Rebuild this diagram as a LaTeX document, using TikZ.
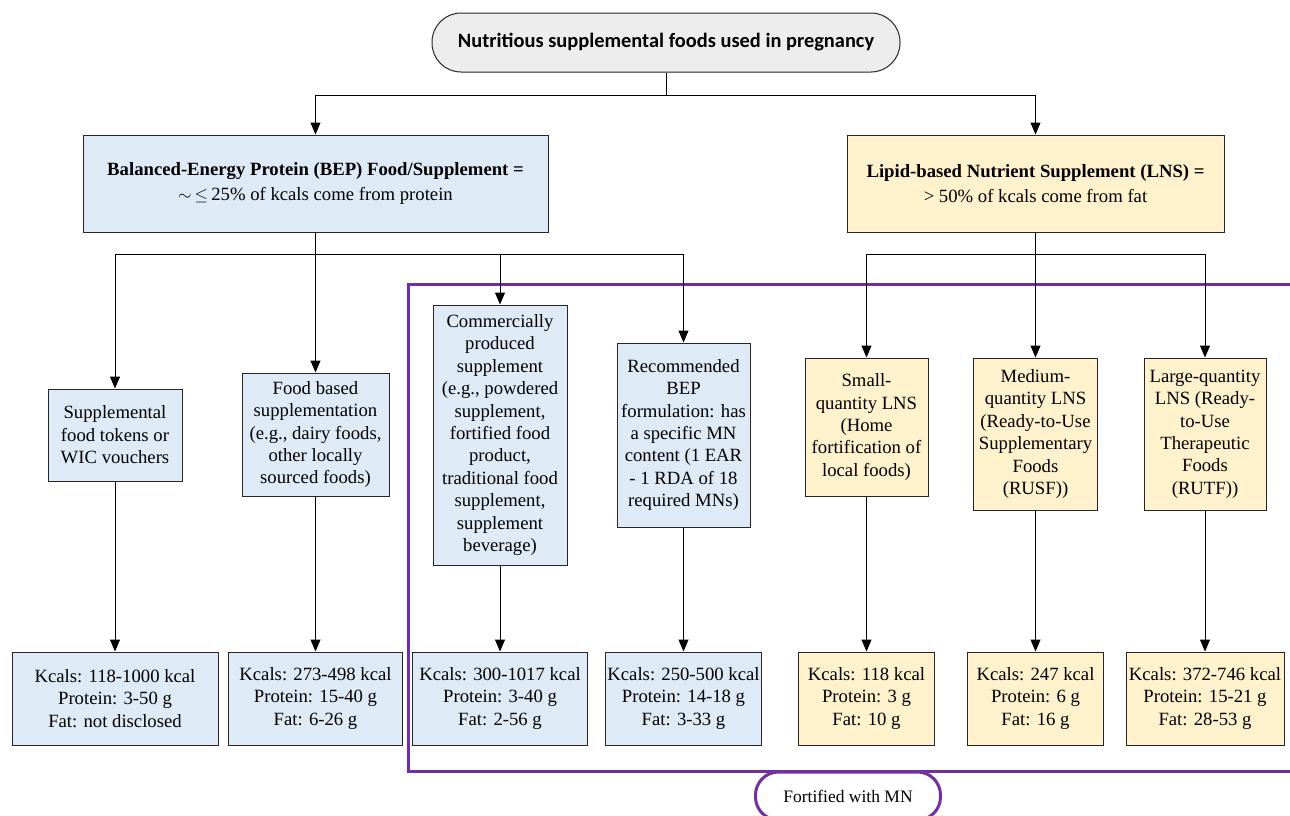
\documentclass[tikz,border=0pt]{standalone}
\usepackage{amsmath}
\usepackage{amssymb}
\usepackage{fontspec}
\setmainfont{Liberation Serif}
\newfontfamily\titlefont{Carlito}
\usetikzlibrary{arrows.meta}

\definecolor{bepblue}{HTML}{DEEBF7}
\definecolor{lnsyellow}{HTML}{FFF2CC}
\definecolor{topgray}{HTML}{EDEDED}
\definecolor{mnpurple}{HTML}{7030A0}

\begin{document}
\begin{tikzpicture}[x=1pt,y=-1pt,
    box/.style={draw=black!85, line width=1pt, align=center, inner sep=2pt,
        font=\fontsize{18.7}{22.4}\selectfont},
    bepbox/.style={box, fill=bepblue},
    lnsbox/.style={box, fill=lnsyellow},
    headbox/.style={font=\fontsize{18.7}{25}\selectfont, minimum height=97pt},
    arr/.style={-{Triangle[length=12pt,width=10pt]}, line width=1pt}]
    \useasboundingbox (0,0) rectangle (1290,815);

    % Draw the MN frame first
    \draw[mnpurple, line width=3pt] (1300,284) -- (408,284) -- (408,771) -- (1300,771);

    % Top of the tree
    \node[draw=black!85, line width=1pt, fill=topgray, rounded corners=29pt,
        minimum width=468pt, minimum height=59pt,
        font=\titlefont\bfseries\fontsize{20.4}{24}\selectfont] (top) at (666,42.5)
        {Nutritious supplemental foods used in pregnancy};

    % Two main groups
    \node[bepbox, headbox, minimum width=465pt] (bep) at (315.5,183.5)
        {\textbf{Balanced-Energy Protein (BEP) Food/Supplement =}\\
         $\sim$\,$\leq$\,25\% of kcals come from protein};
    \node[lnsbox, headbox, minimum width=377pt] (lns) at (1035.5,183.5)
        {\textbf{Lipid-based Nutrient Supplement (LNS) =}\\
         > 50\% of kcals come from fat};

    % Kinds of supplement
    \node[bepbox, minimum width=134pt, minimum height=92pt] (tokens) at (115,435)
        {Supplemental\\food tokens or\\WIC vouchers};
    \node[bepbox, minimum width=147pt, minimum height=123pt] (foodbased) at (315.5,434.5)
        {Food based\\supplementation\\(e.g., dairy foods,\\other locally\\sourced foods)};
    \node[bepbox, minimum width=134pt, minimum height=260pt] (commercial) at (500,435)
        {Commercially\\produced\\supplement\\(e.g., powdered\\supplement,\\fortified food\\product,\\traditional food\\supplement,\\supplement\\beverage)};
    \node[bepbox, minimum width=133pt, minimum height=184pt] (recommended) at (683.5,435)
        {Recommended\\BEP\\formulation: has\\a specific MN\\content (1 EAR\\- 1 RDA of 18\\required MNs)};
    \node[lnsbox, minimum width=123pt, minimum height=138pt] (sqlns) at (866.5,427)
        {Small-\\quantity LNS\\(Home\\fortification of\\local foods)};
    \node[lnsbox, minimum width=124pt, minimum height=152pt] (mqlns) at (1035.5,434)
        {Medium-\\quantity LNS\\(Ready-to-Use\\Supplementary\\Foods\\(RUSF))};
    \node[lnsbox, minimum width=122pt, minimum height=152pt] (lqlns) at (1205,434)
        {Large-quantity\\LNS (Ready-\\to-Use\\Therapeutic\\Foods\\(RUTF))};

    % Nutrient values
    \node[bepbox, minimum width=206pt, minimum height=93pt] (tokensval) at (115,698.5)
        {Kcals: 118-1000 kcal\\Protein: 3-50 g\\Fat: not disclosed};
    \node[bepbox, minimum width=174pt, minimum height=93pt] (foodbasedval) at (315.5,698.5)
        {Kcals: 273-498 kcal\\Protein: 15-40 g\\Fat: 6-26 g};
    \node[bepbox, minimum width=175pt, minimum height=93pt] (commercialval) at (500,698.5)
        {Kcals: 300-1017 kcal\\Protein: 3-40 g\\Fat: 2-56 g};
    \node[bepbox, minimum width=156pt, minimum height=93pt] (recommendedval) at (683.5,698.5)
        {Kcals: 250-500 kcal\\Protein: 14-18 g\\Fat: 3-33 g};
    \node[lnsbox, minimum width=136pt, minimum height=93pt] (sqlnsval) at (866.5,698.5)
        {Kcals: 118 kcal\\Protein: 3 g\\Fat: 10 g};
    \node[lnsbox, minimum width=136pt, minimum height=93pt] (mqlnsval) at (1035.5,698.5)
        {Kcals: 247 kcal\\Protein: 6 g\\Fat: 16 g};
    \node[lnsbox, minimum width=158pt, minimum height=93pt] (lqlnsval) at (1205,698.5)
        {Kcals: 372-746 kcal\\Protein: 15-21 g\\Fat: 28-53 g};

    % Label of the frame
    \node[draw=mnpurple, line width=3pt, fill=white, rounded corners=23pt,
        minimum width=185pt, minimum height=48pt,
        font=\fontsize{17.5}{20}\selectfont] (fortified) at (848,796) {Fortified with MN};

    % Split points
    \coordinate (topsplit) at (666,95);
    \coordinate (bepsplit) at (315.5,254);
    \coordinate (lnssplit) at (1035.5,254);

    % Connectors
    \draw[arr] (top.south) -- (topsplit) -| (bep.north);
    \draw[arr] (topsplit) -| (lns.north);
    \draw[arr] (bep.south) -- (foodbased.north);
    \draw[arr] (bepsplit) -| (tokens.north);
    \draw[arr] (bepsplit) -| (commercial.north);
    \draw[arr] (bepsplit) -| (recommended.north);
    \draw[arr] (lns.south) -- (mqlns.north);
    \draw[arr] (lnssplit) -| (sqlns.north);
    \draw[arr] (lnssplit) -| (lqlns.north);
    \foreach \kind in {tokens,foodbased,commercial,recommended,sqlns,mqlns,lqlns}
        \draw[arr] (\kind.south) -- (\kind val.north);

\end{tikzpicture}
\end{document}
